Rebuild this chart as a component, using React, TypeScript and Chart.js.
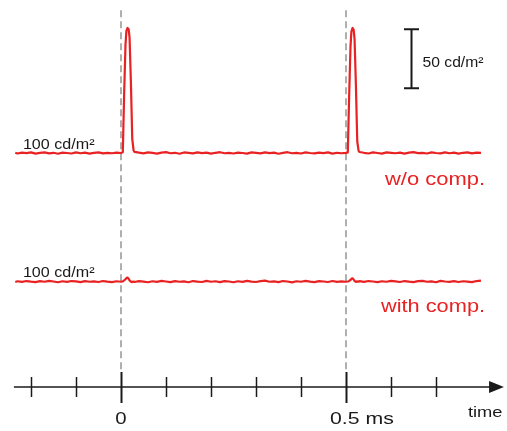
import React, { useEffect, useRef } from "react";
import { Chart, registerables } from "chart.js";

Chart.register(...registerables);

// time samples (ms)
const timeMs = [
  -0.235, -0.23, -0.22, -0.21, -0.2, -0.19, -0.18, -0.17, -0.16, -0.15, -0.14, -0.13, -0.12, -0.11, -0.1, -0.09, -0.08, -0.07, -0.06, -0.05, -0.04, -0.03, -0.02, -0.01, 0,
  0.004, 0.007, 0.01, 0.012, 0.0145, 0.017, 0.019, 0.022, 0.025, 0.028,
  0.03, 0.04, 0.05, 0.06, 0.07, 0.08, 0.09, 0.1, 0.11, 0.12, 0.13, 0.14, 0.15, 0.16, 0.17, 0.18, 0.19, 0.2, 0.21, 0.22, 0.23, 0.24, 0.25, 0.26, 0.27, 0.28, 0.29, 0.3, 0.31, 0.32, 0.33, 0.34, 0.35, 0.36, 0.37, 0.38, 0.39, 0.4, 0.41, 0.42, 0.43, 0.44, 0.45, 0.46, 0.47, 0.48, 0.49, 0.5,
  0.504, 0.507, 0.51, 0.512, 0.5145, 0.517, 0.519, 0.522, 0.525, 0.528,
  0.53, 0.54, 0.55, 0.56, 0.57, 0.58, 0.59, 0.6, 0.61, 0.62, 0.63, 0.64, 0.65, 0.66, 0.67, 0.68, 0.69, 0.7, 0.71, 0.72, 0.73, 0.74, 0.75, 0.76, 0.77, 0.78, 0.79, 0.8,
];

// luminance without compensation (cd/m²)
const withoutComp = [
  100.3, 99.6, 100.4, 99.9, 100.6, 99.5, 100.1, 100.5, 99.7, 100.2, 99.4, 100.3, 100.0, 99.6, 100.5, 99.8, 100.4, 99.5, 100.1, 100.6, 99.7, 100.2, 99.8, 100.4, 100.0,
  100.6, 150, 192, 203.5, 206, 205, 198, 160, 112, 102,
  101.0, 100.3, 99.7, 100.6, 100.1, 99.5, 100.4, 100.8, 99.8, 100.2, 99.4, 100.5, 100.1, 99.7, 100.6, 99.9, 100.3, 99.5, 100.2, 100.7, 99.8, 100.1, 99.6, 100.4, 100.0, 99.5, 100.6, 100.2, 99.7, 100.5, 99.9, 100.3, 99.4, 100.1, 100.7, 99.8, 100.2, 99.6, 100.5, 100.0, 99.7, 100.4, 99.9, 100.6, 99.5, 100.2, 99.8, 100.1,
  100.5, 148, 190, 203, 206, 204.5, 197, 158, 110, 101.8,
  100.9, 100.2, 99.6, 100.5, 100.0, 99.5, 100.6, 100.2, 99.8, 100.4, 99.5, 100.3, 100.7, 99.9, 100.1, 99.6, 100.5, 100.0, 99.7, 100.6, 99.8, 100.3, 99.5, 100.2, 100.6, 99.7, 100.4, 100.1,
];

// luminance with compensation (cd/m²)
const withComp = [
  99.7, 100.3, 99.8, 100.5, 100.0, 99.6, 100.4, 99.9, 100.6, 100.1, 99.5, 100.3, 99.8, 100.5, 100.2, 99.6, 100.4, 99.9, 100.2, 99.7, 100.5, 100.0, 99.6, 100.3, 99.9,
  100.2, 101.0, 102.0, 103.0, 103.4, 102.4, 101.0, 100.0, 99.6, 100.1,
  99.7, 100.4, 100.0, 99.5, 100.3, 99.8, 100.6, 100.1, 99.6, 100.4, 99.9, 100.2, 99.5, 100.5, 100.0, 99.7, 100.6, 99.9, 100.3, 99.6, 100.4, 100.1, 99.5, 100.3, 99.8, 100.6, 100.0, 99.7, 100.4, 100.8, 99.9, 100.2, 99.6, 100.5, 100.1, 99.4, 100.3, 99.9, 100.6, 100.0, 99.6, 100.4, 100.1, 99.7, 100.5, 99.8, 100.2, 99.9,
  100.1, 100.6, 101.4, 102.4, 102.8, 101.8, 100.6, 99.8, 100.2, 99.9,
  100.4, 99.8, 100.5, 100.1, 99.6, 100.3, 99.9, 100.6, 100.2, 99.7, 100.5, 100.0, 99.6, 100.4, 100.7, 99.9, 100.2, 99.5, 100.6, 100.1, 99.8, 100.4, 99.7, 100.3, 100.0, 99.6, 100.5, 100.9,
];

const markerTimes = [0, 0.5];
const axisTicks = [-0.2, -0.1, 0, 0.1, 0.2, 0.3, 0.4, 0.5, 0.6, 0.7];
const majorTicks = [0, 0.5];
const tickLabels = ["0", "0.5 ms"];
const axisTitle = "time";
const baselineLabel = "100 cd/m²";
const scaleBarValue = 50;
const scaleBarLabel = "50 cd/m²";
const seriesLabels = ["w/o comp.", "with comp."];

// display constants
const LOWER_OFFSET = 109;
const RED = "rgb(232,34,34)";
const FONT = "'Liberation Sans', Arial, sans-serif";

function drawText(ctx: CanvasRenderingContext2D, text: string, x: number, y: number, size: number, color: string, align: CanvasTextAlign, sx: number) {
  ctx.save();
  ctx.translate(x, y);
  ctx.scale(sx, 1);
  ctx.font = `${size}px ${FONT}`;
  ctx.fillStyle = color;
  ctx.textAlign = align;
  ctx.textBaseline = "alphabetic";
  ctx.fillText(text, 0, 0);
  ctx.restore();
}

const overlayPlugin = {
  id: "overlay",
  afterDatasetsDraw(chart: any) {
    const ctx: CanvasRenderingContext2D = chart.ctx;
    const xs = chart.scales.x;
    const ys = chart.scales.y;
    const X = (v: number) => xs.getPixelForValue(v);
    const Y = (v: number) => ys.getPixelForValue(v);
    ctx.save();

    // time axis
    const ay = Y(-98.3);
    ctx.strokeStyle = "#1a1a1a";
    ctx.fillStyle = "#1a1a1a";
    ctx.lineWidth = 1.6;
    ctx.beginPath();
    ctx.moveTo(X(-0.238), ay);
    ctx.lineTo(X(0.822), ay);
    ctx.stroke();
    ctx.beginPath();
    ctx.moveTo(X(0.851), ay);
    ctx.lineTo(X(0.818), ay - 6);
    ctx.lineTo(X(0.818), ay + 6);
    ctx.closePath();
    ctx.fill();
    axisTicks.forEach((t) => {
      const major = majorTicks.some((m) => Math.abs(m - t) < 1e-9);
      const px = Math.round(X(t)) + 0.5;
      ctx.lineWidth = major ? 2 : 1.5;
      ctx.beginPath();
      ctx.moveTo(px, ay - (major ? 15 : 10));
      ctx.lineTo(px, ay + (major ? 16 : 10));
      ctx.stroke();
    });
    drawText(ctx, tickLabels[0], X(majorTicks[0]), ay + 37, 17, "#1a1a1a", "center", 1.2);
    drawText(ctx, tickLabels[1], X(majorTicks[1]) - 16, ay + 37, 17, "#1a1a1a", "left", 1.25);
    drawText(ctx, axisTitle, X(0.771), ay + 30, 15, "#1a1a1a", "left", 1.22);

    // scale bar
    const bx = Math.round(X(0.6444)) + 0.5;
    const top = Y(100 + 105);
    const bot = Y(100 + 105 - scaleBarValue);
    ctx.lineWidth = 2;
    ctx.beginPath();
    ctx.moveTo(bx, top);
    ctx.lineTo(bx, bot);
    ctx.moveTo(bx - 7.5, top);
    ctx.lineTo(bx + 7.5, top);
    ctx.moveTo(bx - 7.5, bot);
    ctx.lineTo(bx + 7.5, bot);
    ctx.stroke();
    drawText(ctx, scaleBarLabel, bx + 11, (top + bot) / 2 + 8, 14, "#1a1a1a", "left", 1.12);

    // baseline labels
    drawText(ctx, baselineLabel, X(-0.218), Y(100) - 4, 14, "#1a1a1a", "left", 1.15);
    drawText(ctx, baselineLabel, X(-0.218), Y(100 - LOWER_OFFSET) - 5, 14, "#1a1a1a", "left", 1.15);

    // series labels
    drawText(ctx, seriesLabels[0], X(0.809), Y(100) + 32, 18, RED, "right", 1.22);
    drawText(ctx, seriesLabels[1], X(0.809), Y(100 - LOWER_OFFSET) + 30, 18, RED, "right", 1.21);

    ctx.restore();
  },
};

export default function App() {
  const ref = useRef<HTMLCanvasElement | null>(null);

  useEffect(() => {
    if (!ref.current) return;
    const upper = timeMs.map((t, i) => ({ x: t, y: withoutComp[i] }));
    const lower = timeMs.map((t, i) => ({ x: t, y: withComp[i] - LOWER_OFFSET }));
    const markers = markerTimes.map((t) => ({
      label: "marker",
      data: [
        { x: t, y: 221 },
        { x: t, y: -85.5 },
      ],
      borderColor: "#9c9c9c",
      borderWidth: 1.6,
      borderDash: [7, 4],
      pointRadius: 0,
      fill: false,
      order: 2,
    }));
    const chart = new Chart(ref.current, {
      type: "line",
      data: {
        datasets: [
          {
            label: seriesLabels[0],
            data: upper,
            borderColor: RED,
            borderWidth: 2.2,
            borderJoinStyle: "round",
            pointRadius: 0,
            tension: 0,
            fill: false,
            order: 1,
            clip: false,
          },
          {
            label: seriesLabels[1],
            data: lower,
            borderColor: RED,
            borderWidth: 2.2,
            borderJoinStyle: "round",
            pointRadius: 0,
            tension: 0,
            fill: false,
            order: 1,
            clip: false,
          },
          ...markers,
        ] as any,
      },
      options: {
        animation: false,
        responsive: false,
        devicePixelRatio: 1,
        layout: { padding: 0 },
        plugins: { legend: { display: false }, tooltip: { enabled: false } },
        events: [],
        scales: {
          x: { type: "linear", min: -0.2689, max: 0.8578, display: false },
          y: { type: "linear", min: -135.6, max: 229.7, display: false },
        },
      },
      plugins: [overlayPlugin],
    });
    return () => chart.destroy();
  }, []);

  return (
    <div style={{ position: "fixed", left: 0, top: 0, width: 507, height: 431, background: "#fff" }}>
      <canvas ref={ref} width={507} height={431} style={{ display: "block", width: 507, height: 431 }} />
    </div>
  );
}
